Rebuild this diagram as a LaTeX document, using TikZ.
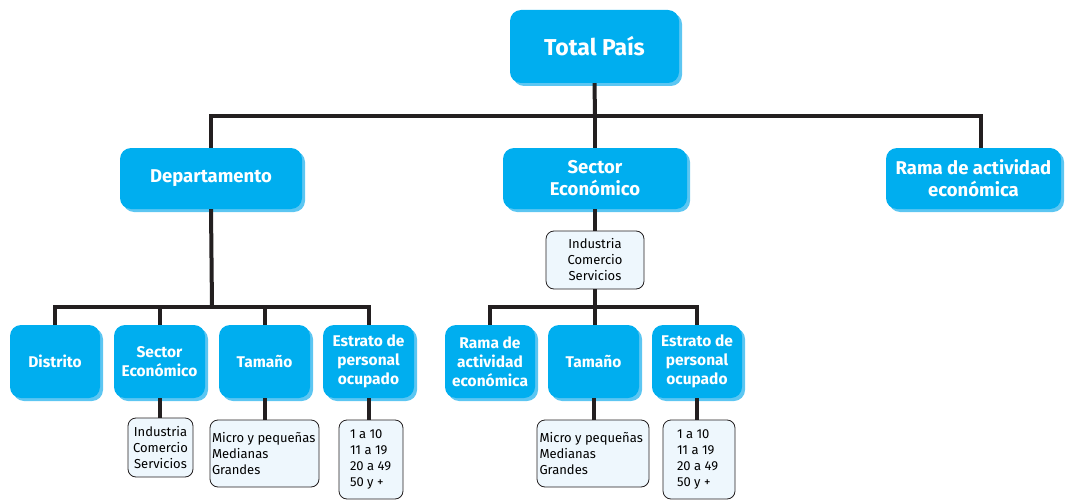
\documentclass[tikz,border=0pt]{standalone}
\usepackage{fontspec}
\setmainfont{Fira Sans}
\usetikzlibrary{shadows}
\definecolor{boxblue}{HTML}{00AEEF}
\definecolor{shadeblue}{HTML}{5CC6F2}
\definecolor{lightfill}{HTML}{EEF7FD}
\definecolor{linecol}{HTML}{231F20}
\tikzset{
  bluebox/.style={draw=none, fill=boxblue, rounded corners=11pt, text=white,
    font=\bfseries, align=center, inner sep=0pt,
    drop shadow={shadow xshift=3pt, shadow yshift=-3pt, fill=shadeblue, opacity=1}},
  bigtxt/.style={font=\fontsize{23}{27}\selectfont\bfseries},
  midtxt/.style={font=\fontsize{18.5}{22}\selectfont\bfseries},
  lowtxt/.style={font=\fontsize{15.5}{19}\selectfont\bfseries},
  listbox/.style={draw=linecol, line width=0.8pt, fill=lightfill, rounded corners=8pt,
    font=\fontsize{13}{16}\selectfont, inner sep=0pt},
  conn/.style={draw=linecol, line width=4pt},
}
\begin{document}
\begin{tikzpicture}[x=1pt,y=-1pt]
\useasboundingbox (0,0) rectangle (1065,500);
% top level
\node[bluebox, bigtxt, minimum width=169pt, minimum height=73pt] (total) at (594.5,46.5) {Total País};
\node[bluebox, midtxt, minimum width=182pt, minimum height=61pt] (dep) at (211,178.5) {Departamento};
\node[bluebox, midtxt, minimum width=184pt, minimum height=61pt] (sec) at (595,178.5) {Sector\\Económico};
\node[bluebox, midtxt, minimum width=175pt, minimum height=61pt] (rama) at (973.5,178.5) {Rama de actividad\\económica};
% middle list
\node[listbox, align=center, minimum width=98pt, minimum height=58pt] (indm) at (595,260) {Industria\\Comercio\\Servicios};
% bottom row
\node[bluebox, lowtxt, minimum width=90pt, minimum height=73pt] (dist) at (55,361.5) {Distrito};
\node[bluebox, lowtxt, minimum width=91pt, minimum height=73pt] (sec2) at (159.5,361.5) {Sector\\Económico};
\node[bluebox, lowtxt, minimum width=91pt, minimum height=73pt] (tam2) at (264.5,361.5) {Tamaño};
\node[bluebox, lowtxt, minimum width=91pt, minimum height=73pt] (est2) at (368.5,361.5) {Estrato de\\personal\\ocupado};
\node[bluebox, lowtxt, minimum width=90pt, minimum height=73pt] (rama3) at (490,361.5) {Rama de\\actividad\\económica};
\node[bluebox, lowtxt, minimum width=91pt, minimum height=73pt] (tam3) at (593.5,361.5) {Tamaño};
\node[bluebox, lowtxt, minimum width=90pt, minimum height=73pt] (est3) at (697,361.5) {Estrato de\\personal\\ocupado};
% bottom lists
\node[listbox, align=center, minimum width=65pt, minimum height=59pt] (ind2) at (160.5,447.5) {Industria\\Comercio\\Servicios};
\node[listbox, minimum width=109pt, minimum height=67pt] (mic2) at (264.5,453.5)
  {\begin{minipage}{105pt}\raggedright Micro y pequeñas\\Medianas\\Grandes\end{minipage}};
\node[listbox, minimum width=64pt, minimum height=79pt] (est2l) at (371,459.5)
  {\begin{minipage}{42pt}\raggedright 1 a 10\\11 a 19\\20 a 49\\50 y +\end{minipage}};
\node[listbox, minimum width=112pt, minimum height=67pt] (mic3) at (593,453.5)
  {\begin{minipage}{107pt}\raggedright Micro y pequeñas\\Medianas\\Grandes\end{minipage}};
\node[listbox, minimum width=72pt, minimum height=79pt] (est3l) at (699,459.5)
  {\begin{minipage}{44pt}\raggedright 1 a 10\\11 a 19\\20 a 49\\50 y +\end{minipage}};
% bus coordinates
\coordinate (b1) at (595,116);
\coordinate (b2) at (212,307);
\coordinate (b3) at (595,307);
% connectors
\draw[conn] (total.south) -- (b1);
\draw[conn] (dep.north) |- (b1) -| ([xshift=7.5pt]rama.north);
\draw[conn] (b1) -- (sec.north);
\draw[conn] (dep.south) -- (b2);
\draw[conn] (dist.north) |- (b2) -| (est2.north);
\draw[conn] (sec2.north) -- (sec2.north |- b2);
\draw[conn] (tam2.north) -- (tam2.north |- b2);
\draw[conn] (sec.south) -- (indm.north);
\draw[conn] (indm.south) -- (b3);
\draw[conn] (rama3.north) |- (b3) -| (est3.north);
\draw[conn] (b3) -- (b3 |- tam3.north);
\draw[conn] (sec2.south) -- (sec2.south |- ind2.north);
\draw[conn] (tam2.south) -- (tam2.south |- mic2.north);
\draw[conn] (est2.south) -- (est2.south |- est2l.north);
\draw[conn] (tam3.south) -- (tam3.south |- mic3.north);
\draw[conn] (est3.south) -- (est3.south |- est3l.north);
\end{tikzpicture}
\end{document}
